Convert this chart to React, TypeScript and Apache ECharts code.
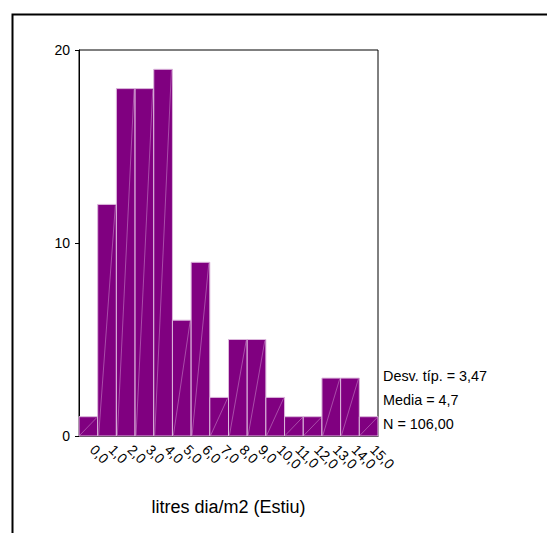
import React, { useEffect, useRef } from "react";
import * as echarts from "echarts";

const categories = ["0,0","1,0","2,0","3,0","4,0","5,0","6,0","7,0","8,0","9,0","10,0","11,0","12,0","13,0","14,0","15,0"];
const counts = [1, 12, 18, 18, 19, 6, 9, 2, 5, 5, 2, 1, 1, 3, 3, 1];
const statLines = ["Desv. típ. = 3,47", "Media = 4,7", "N = 106,00"];
const xTitle = "litres dia/m2 (Estiu)";
const yMax = 20;
const yInterval = 10;

const FONT = 'Arial, "Liberation Sans", sans-serif';

export default function App() {
  const ref = useRef<HTMLDivElement>(null);
  useEffect(() => {
    if (!ref.current) return;
    const chart = echarts.init(ref.current, null, { renderer: "svg" });
    chart.setOption({
      animation: false,
      backgroundColor: "#ffffff",
      grid: { left: 79, top: 50, right: 169, bottom: 97, show: true, borderColor: "#000", borderWidth: 1, backgroundColor: "transparent" },
      xAxis: {
        type: "category",
        data: categories,
        boundaryGap: true,
        name: xTitle,
        nameLocation: "middle",
        nameGap: 62,
        nameTextStyle: { fontFamily: FONT, fontSize: 18, color: "#000", verticalAlign: "top" },
        axisLine: { lineStyle: { color: "#000", width: 1 } },
        axisTick: { alignWithLabel: true, length: 5, lineStyle: { color: "#000" } },
        axisLabel: { rotate: -45, fontFamily: FONT, fontSize: 14, color: "#000", margin: 7, interval: 0, padding: [0, 0, 0, 6] },
        splitLine: { show: false },
      },
      yAxis: {
        type: "value",
        min: 0,
        max: yMax,
        interval: yInterval,
        axisLine: { show: true, lineStyle: { color: "#000", width: 1 } },
        axisTick: { show: true, length: 4, lineStyle: { color: "#000" } },
        axisLabel: { fontFamily: FONT, fontSize: 14, color: "#000", margin: 9 },
        splitLine: { show: false },
      },
      series: [
        {
          type: "custom",
          data: counts.map((v, i) => [i, v]),
          renderItem: (params: any, api: any) => {
            const i = api.value(0);
            const v = api.value(1);
            const top = api.coord([i, v]);
            const bottom = api.coord([i, 0]);
            const w = api.size([1, 0])[0];
            const x0 = top[0] - w / 2;
            const x1 = top[0] + w / 2;
            return {
              type: "group",
              children: [
                {
                  type: "rect",
                  shape: { x: x0, y: top[1], width: w, height: bottom[1] - top[1] },
                  style: { fill: "#800080", stroke: "#dcb8dc", lineWidth: 1 },
                },
                {
                  type: "line",
                  shape: { x1: x0 + 1, y1: bottom[1] - 1, x2: x1 - 1, y2: top[1] + 1 },
                  style: { stroke: "rgba(230,190,230,0.5)", lineWidth: 0.8 },
                },
              ],
            };
          },
        },
      ],
      graphic: [
        {
          type: "rect",
          left: 10,
          top: 12,
          shape: { width: 600, height: 600 },
          style: { fill: "none", stroke: "#000", lineWidth: 2 },
          silent: true,
        },
        ...statLines.map((t, k) => ({
          type: "text",
          left: 383,
          top: 369 + k * 24,
          style: { text: t, fontFamily: FONT, fontSize: 14.4, fill: "#000" },
        })),
      ],
    });
    return () => chart.dispose();
  }, []);
  return <div ref={ref} style={{ position: "fixed", left: 0, top: 0, width: 547, height: 533 }} />;
}
